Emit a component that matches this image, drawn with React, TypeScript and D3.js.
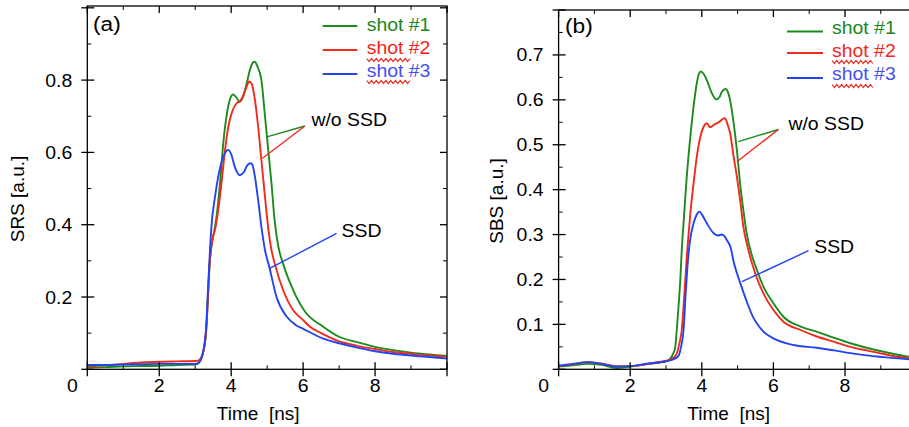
import React from "react";
import * as d3 from "d3";

type P = [number, number];

// ---- Panel (a): SRS [a.u.] vs Time [ns] ----
const srsShot1: P[] = [
  [0, 0.005], [0.5, 0.006], [1, 0.008], [1.5, 0.009], [2, 0.01], [2.5, 0.012], [3, 0.013], [3.1, 0.018],
  [3.2, 0.04], [3.25, 0.06], [3.3, 0.1], [3.35, 0.19], [3.4, 0.29], [3.45, 0.34], [3.5, 0.367], [3.59, 0.42],
  [3.69, 0.515], [3.78, 0.625], [3.87, 0.7], [3.96, 0.745], [4.05, 0.76], [4.12, 0.755], [4.24, 0.74],
  [4.33, 0.754], [4.43, 0.79], [4.52, 0.828], [4.6, 0.848], [4.66, 0.851], [4.72, 0.84], [4.84, 0.8],
  [4.94, 0.7], [5.03, 0.607], [5.12, 0.515], [5.21, 0.41], [5.31, 0.34], [5.44, 0.293], [5.72, 0.22],
  [6.05, 0.16], [6.56, 0.118], [7, 0.09], [7.5, 0.075], [8, 0.062], [8.5, 0.053], [9, 0.046], [9.5, 0.041],
  [10, 0.037],
];
const srsShot2: P[] = [
  [0, 0.008], [0.5, 0.011], [1, 0.015], [1.5, 0.019], [2, 0.021], [2.5, 0.022], [3, 0.023], [3.1, 0.025],
  [3.2, 0.04], [3.25, 0.06], [3.3, 0.1], [3.35, 0.19], [3.4, 0.29], [3.45, 0.34], [3.5, 0.37], [3.55, 0.385],
  [3.64, 0.44], [3.73, 0.515], [3.83, 0.607], [3.92, 0.671], [4.01, 0.708], [4.15, 0.736], [4.25, 0.742],
  [4.33, 0.756], [4.43, 0.782], [4.5, 0.796], [4.57, 0.79], [4.66, 0.745], [4.75, 0.671], [4.84, 0.579],
  [4.94, 0.477], [5.03, 0.39], [5.12, 0.33], [5.21, 0.293], [5.44, 0.22], [5.72, 0.164], [6, 0.136],
  [6.19, 0.118], [6.5, 0.1], [6.93, 0.08], [7.5, 0.065], [8, 0.056], [8.5, 0.048], [9, 0.043], [9.5, 0.038],
  [10, 0.035],
];
const srsShot3: P[] = [
  [0, 0.012], [0.5, 0.012], [1, 0.013], [1.5, 0.014], [2, 0.015], [2.5, 0.015], [3, 0.015], [3.1, 0.018],
  [3.2, 0.04], [3.25, 0.065], [3.3, 0.11], [3.35, 0.21], [3.41, 0.33], [3.45, 0.394], [3.55, 0.477],
  [3.64, 0.533], [3.78, 0.588], [3.88, 0.605], [3.92, 0.607], [4, 0.595], [4.1, 0.56], [4.24, 0.537],
  [4.35, 0.545], [4.45, 0.565], [4.55, 0.57], [4.62, 0.555], [4.66, 0.533], [4.75, 0.468], [4.84, 0.394],
  [4.94, 0.33], [5.07, 0.279], [5.26, 0.2], [5.54, 0.146], [5.8, 0.122], [6, 0.112], [6.56, 0.085],
  [7, 0.072], [7.5, 0.06], [8, 0.05], [8.5, 0.043], [9, 0.038], [9.5, 0.034], [10, 0.03],
];

// ---- Panel (b): SBS [a.u.] vs Time [ns] ----
const sbsShot1: P[] = [
  [0, 0.006], [0.4, 0.009], [0.8, 0.012], [1.2, 0.01], [1.6, 0.003], [2, 0.006], [2.5, 0.012], [3, 0.018],
  [3.1, 0.022], [3.2, 0.035], [3.26, 0.05], [3.3, 0.087], [3.35, 0.14], [3.4, 0.2], [3.44, 0.266],
  [3.49, 0.325], [3.58, 0.429], [3.68, 0.518], [3.77, 0.585], [3.86, 0.637], [3.92, 0.658], [3.97, 0.663],
  [4.05, 0.658], [4.14, 0.644], [4.28, 0.615], [4.4, 0.601], [4.5, 0.607], [4.56, 0.618], [4.67, 0.624],
  [4.74, 0.615], [4.79, 0.6], [4.89, 0.548], [4.98, 0.488], [5.07, 0.414], [5.16, 0.355], [5.26, 0.3],
  [5.37, 0.262], [5.54, 0.221], [5.72, 0.184], [6, 0.147], [6.28, 0.117], [6.76, 0.095], [7.21, 0.084],
  [7.7, 0.07], [8.15, 0.058], [8.6, 0.048], [9.08, 0.039], [9.8, 0.028], [10, 0.027],
];
const sbsShot2: P[] = [
  [0, 0.007], [0.4, 0.011], [0.8, 0.016], [1.2, 0.013], [1.6, 0.007], [2, 0.007], [2.5, 0.012], [3, 0.019],
  [3.15, 0.022], [3.3, 0.035], [3.38, 0.06], [3.44, 0.087], [3.49, 0.14], [3.54, 0.2], [3.58, 0.25],
  [3.63, 0.3], [3.68, 0.347], [3.77, 0.414], [3.86, 0.473], [3.96, 0.518], [4.05, 0.54], [4.14, 0.548],
  [4.23, 0.539], [4.33, 0.544], [4.49, 0.551], [4.6, 0.558], [4.65, 0.559], [4.72, 0.545], [4.79, 0.526],
  [4.89, 0.473], [4.98, 0.429], [5.07, 0.377], [5.16, 0.318], [5.3, 0.266], [5.49, 0.214], [5.72, 0.169],
  [6, 0.132], [6.28, 0.106], [6.76, 0.0875], [7.21, 0.073], [7.7, 0.061], [8.15, 0.05], [8.6, 0.042],
  [9.08, 0.034], [9.8, 0.024], [10, 0.023],
];
const sbsShot3: P[] = [
  [0, 0.008], [0.4, 0.012], [0.8, 0.016], [1.2, 0.012], [1.6, 0.006], [2, 0.007], [2.5, 0.013], [3, 0.018],
  [3.2, 0.022], [3.35, 0.03], [3.42, 0.05], [3.49, 0.087], [3.55, 0.17], [3.6, 0.23], [3.66, 0.28],
  [3.77, 0.325], [3.85, 0.343], [3.94, 0.351], [4, 0.345], [4.14, 0.325], [4.33, 0.303], [4.45, 0.298],
  [4.56, 0.3], [4.65, 0.295], [4.72, 0.285], [4.79, 0.275], [4.9, 0.236], [5.07, 0.193], [5.26, 0.15],
  [5.44, 0.115], [5.54, 0.102], [5.72, 0.084], [6, 0.069], [6.56, 0.054], [7.21, 0.048], [7.7, 0.042],
  [8.15, 0.036], [8.6, 0.031], [9.08, 0.027], [9.8, 0.022], [10, 0.021],
];

const legendLabels = ["shot #1", "shot #2", "shot #3"];
const colors = ["#1d8a1d", "#f22a1c", "#2444ee"];
const textColors = ["#1a861a", "#f5251a", "#4650f0"];

const xMajorTicks = [0, 2, 4, 6, 8, 10];
const xMinorTicks = [1, 3, 5, 7, 9];
const xTickLabels = [2, 4, 6, 8];
const srsMajorTicks = [0, 0.2, 0.4, 0.6, 0.8, 1.0];
const srsMinorTicks = [0.1, 0.3, 0.5, 0.7, 0.9];
const srsTickLabels = [0.2, 0.4, 0.6, 0.8];
const sbsMajorTicks = [0, 0.1, 0.2, 0.3, 0.4, 0.5, 0.6, 0.7, 0.8];
const sbsMinorTicks = [0.05, 0.15, 0.25, 0.35, 0.45, 0.55, 0.65, 0.75];
const sbsTickLabels = [0.1, 0.2, 0.3, 0.4, 0.5, 0.6, 0.7];

// annotation anchor points in data units: [fromT, fromV, toT, toV]
const srsWoSsdPointers: [number, number, number, number][] = [
  [6.05, 0.673, 4.99, 0.643],
  [6.05, 0.673, 4.87, 0.584],
];
const srsSsdPointer: [number, number, number, number] = [6.93, 0.376, 5.07, 0.279];
const sbsWoSsdPointers: [number, number, number, number][] = [
  [6.14, 0.534, 5.02, 0.507],
  [6.14, 0.534, 4.98, 0.462],
];
const sbsSsdPointer: [number, number, number, number] = [6.98, 0.264, 5.12, 0.195];

const FONT = "'Liberation Sans', Arial, Helvetica, sans-serif";
const SX = 1.08;

function T(props: {
  x: number; y: number; size?: number; anchor?: string; fill?: string; sx?: number; children: React.ReactNode;
}) {
  const { x, y, size = 18, anchor = "start", fill = "#000", sx = SX, children } = props;
  return (
    <text
      transform={`translate(${x},${y}) scale(${sx},1)`}
      fontFamily={FONT}
      fontSize={size}
      textAnchor={anchor}
      fill={fill}
      style={{ whiteSpace: "pre" }}
    >
      {children}
    </text>
  );
}

function squiggle(x0: number, x1: number, y: number) {
  const pts: [number, number][] = d3.range(x0, x1 + 0.01, 2.4).map((x, i) => [x, y + (i % 2 === 0 ? -1.5 : 1.5)]);
  return d3.line()(pts) || "";
}

interface PanelProps {
  left: number; right: number; top: number; bottom: number; yMax: number;
  series: P[][];
  yMajor: number[]; yMinor: number[]; yLabels: number[];
  yTitle: string; yTitleX: number; yTitleY: number;
  tag: string; tagX: number; tagY: number;
  legend: { lineX0: number; lineX1: number; textX: number; lineY: number[]; baseY: number[]; squiggleY: number[]; squiggleX1: number };
  woPointers: [number, number, number, number][]; woText: [number, number];
  ssdPointer: [number, number, number, number]; ssdText: [number, number];
}

function Panel(p: PanelProps) {
  const x = d3.scaleLinear().domain([0, 10]).range([p.left, p.right]);
  const y = d3.scaleLinear().domain([0, p.yMax]).range([p.bottom, p.top]);
  const line = d3
    .line<P>()
    .x((d) => x(d[0]))
    .y((d) => y(d[1]))
    .curve(d3.curveMonotoneX);
  const fy = d3.format(".1f");
  const axisW = 1.3;
  const clipId = `clip-${p.tag.replace(/[()]/g, "")}`;
  const inRangeY = (v: number) => y(v) >= p.top - 0.5;
  return (
    <g>
      <defs>
        <clipPath id={clipId}>
          <rect x={p.left} y={p.top} width={p.right - p.left} height={p.bottom - p.top} />
        </clipPath>
      </defs>
      <g clipPath={`url(#${clipId})`}>
        {p.series.map((s, i) => (
          <path key={i} d={line(s) || ""} fill="none" stroke={colors[i]} strokeWidth={1.9} strokeLinejoin="round" />
        ))}
      </g>
      <rect x={p.left} y={p.top} width={p.right - p.left} height={p.bottom - p.top} fill="none" stroke="#000" strokeWidth={axisW} />
      {xMajorTicks.map((t) => (
        <g key={`xm${t}`}>
          <line x1={x(t)} x2={x(t)} y1={p.bottom - 7} y2={p.bottom + 7} stroke="#000" strokeWidth={axisW} />
          <line x1={x(t)} x2={x(t)} y1={p.top} y2={p.top + 7} stroke="#000" strokeWidth={axisW} />
        </g>
      ))}
      {xMinorTicks.map((t) => (
        <g key={`xn${t}`}>
          <line x1={x(t)} x2={x(t)} y1={p.bottom - 4} y2={p.bottom} stroke="#000" strokeWidth={1} />
          <line x1={x(t)} x2={x(t)} y1={p.top} y2={p.top + 4} stroke="#000" strokeWidth={1} />
        </g>
      ))}
      {p.yMajor.filter(inRangeY).map((v) => (
        <g key={`ym${v}`}>
          <line x1={p.left - 6} x2={p.left + 7} y1={y(v)} y2={y(v)} stroke="#000" strokeWidth={axisW} />
          <line x1={p.right - 7} x2={p.right} y1={y(v)} y2={y(v)} stroke="#000" strokeWidth={axisW} />
        </g>
      ))}
      {p.yMinor.filter(inRangeY).map((v) => (
        <g key={`yn${v}`}>
          <line x1={p.left} x2={p.left + 4} y1={y(v)} y2={y(v)} stroke="#000" strokeWidth={1} />
          <line x1={p.right - 4} x2={p.right} y1={y(v)} y2={y(v)} stroke="#000" strokeWidth={1} />
        </g>
      ))}
      {xTickLabels.map((t) => (
        <T key={`xl${t}`} x={x(t)} y={392} anchor="middle">{String(t)}</T>
      ))}
      <T x={p.left - 15} y={392} anchor="middle">0</T>
      {p.yLabels.map((v) => (
        <T key={`yl${v}`} x={p.left - 15} y={y(v) + 6.5} anchor="end">{fy(v)}</T>
      ))}
      <T x={x(4.75)} y={420} size={19} sx={1} anchor="middle">{"Time  [ns]"}</T>
      <text
        transform={`translate(${p.yTitleX},${p.yTitleY}) rotate(-90)`}
        fontFamily={FONT}
        fontSize={19}
        textAnchor="middle"
      >
        {p.yTitle}
      </text>
      <T x={p.tagX} y={p.tagY} size={21}>{p.tag}</T>
      {legendLabels.map((lab, i) => (
        <g key={lab}>
          <line x1={p.legend.lineX0} x2={p.legend.lineX1} y1={p.legend.lineY[i]} y2={p.legend.lineY[i]} stroke={colors[i]} strokeWidth={2} />
          <T x={p.legend.textX} y={p.legend.baseY[i]} fill={textColors[i]}>{lab}</T>
        </g>
      ))}
      {p.legend.squiggleY.map((sy, i) => (
        <path key={`sq${i}`} d={squiggle(p.legend.textX, p.legend.squiggleX1, sy)} fill="none" stroke="#f0281c" strokeWidth={1.2} />
      ))}
      {p.woPointers.map((a, i) => (
        <line key={`wp${i}`} x1={x(a[0])} y1={y(a[1])} x2={x(a[2])} y2={y(a[3])} stroke={colors[i]} strokeWidth={1.4} />
      ))}
      <T x={x(p.woText[0])} y={y(p.woText[1])}>w/o SSD</T>
      <line x1={x(p.ssdPointer[0])} y1={y(p.ssdPointer[1])} x2={x(p.ssdPointer[2])} y2={y(p.ssdPointer[3])} stroke={colors[2]} strokeWidth={1.4} />
      <T x={x(p.ssdText[0])} y={y(p.ssdText[1])}>SSD</T>
    </g>
  );
}

export default function App() {
  return (
    <svg
      width={909}
      height={427}
      viewBox="0 0 909 427"
      style={{ position: "absolute", left: 0, top: 0, background: "#fff" }}
    >
      <rect x={0} y={0} width={909} height={427} fill="#fff" />
      <Panel
        left={87.3} right={447} top={6} bottom={369.3} yMax={1.005}
        series={[srsShot1, srsShot2, srsShot3]}
        yMajor={srsMajorTicks} yMinor={srsMinorTicks} yLabels={srsTickLabels}
        yTitle="SRS [a.u.]" yTitleX={24} yTitleY={199}
        tag="(a)" tagX={93} tagY={31}
        legend={{ lineX0: 322.7, lineX1: 357.3, textX: 366.7, lineY: [26, 50, 74], baseY: [30.5, 53.8, 77], squiggleY: [60, 82], squiggleX1: 411.7 }}
        woPointers={srsWoSsdPointers} woText={[6.23, 0.673]}
        ssdPointer={srsSsdPointer} ssdText={[7.07, 0.367]}
      />
      <Panel
        left={558.6} right={916.6} top={10} bottom={369.3} yMax={0.8}
        series={[sbsShot1, sbsShot2, sbsShot3]}
        yMajor={sbsMajorTicks} yMinor={sbsMinorTicks} yLabels={sbsTickLabels}
        yTitle="SBS [a.u.]" yTitleX={503} yTitleY={201}
        tag="(b)" tagX={565} tagY={33}
        legend={{ lineX0: 787, lineX1: 823, textX: 832, lineY: [31.5, 53, 78], baseY: [33.5, 56.8, 80], squiggleY: [62, 86], squiggleX1: 875 }}
        woPointers={sbsWoSsdPointers} woText={[6.42, 0.533]}
        ssdPointer={sbsSsdPointer} ssdText={[7.14, 0.26]}
      />
    </svg>
  );
}
